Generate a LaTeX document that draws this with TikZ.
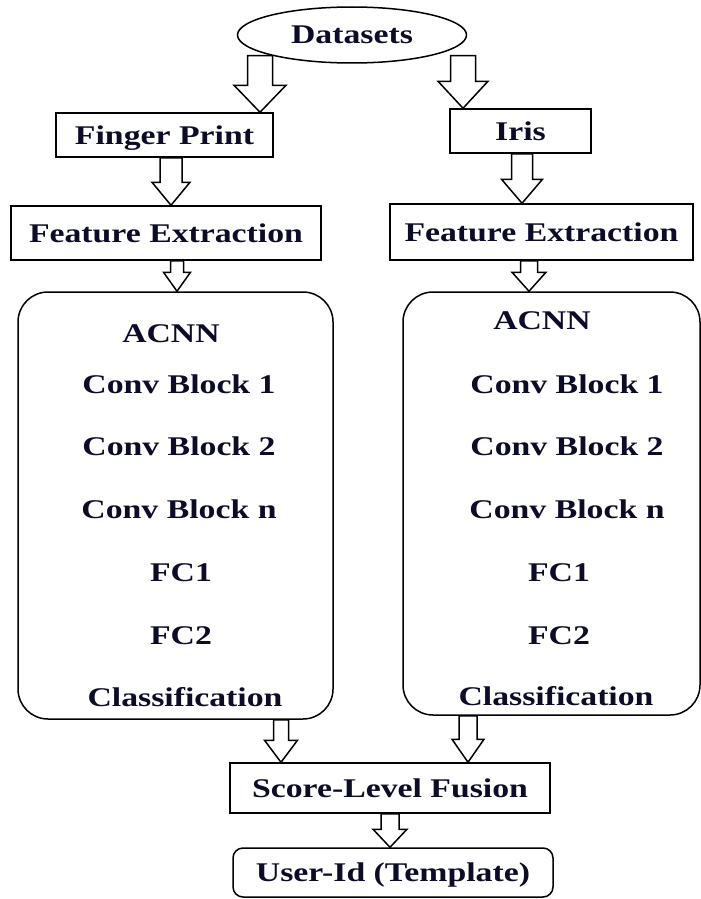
\documentclass[tikz,border=0pt]{standalone}
\usepackage{fontspec}
\setmainfont{Liberation Serif}[FakeStretch=1.25]
\usepackage{tikz}
\usetikzlibrary{shapes.geometric}
\usetikzlibrary{backgrounds}
\usetikzlibrary{calc}
\usepackage{xcolor}
\definecolor{txtnavy}{RGB}{12,12,40}

% hollow block arrow: x, start point, to node, half shaft, half head, head length
\newcommand{\hollowarrow}[6]{%
  \draw[blockarrow] let \p1=(#2), \p2=(#3.north) in
    ({#1pt-#4pt},{\y1}) -- ({#1pt-#4pt},{\y2+#6pt}) -- ({#1pt-#5pt},{\y2+#6pt})
    -- ({#1pt},{\y2}) -- ({#1pt+#5pt},{\y2+#6pt}) -- ({#1pt+#4pt},{\y2+#6pt})
    -- ({#1pt+#4pt},{\y1}) -- cycle;}

\begin{document}
\begin{tikzpicture}[x=1pt,y=-1pt,
    lbl/.style={text=txtnavy, font=\fontsize{27}{30}\selectfont\bfseries,
      text height=18pt, text depth=0pt, inner sep=0pt},
    box/.style={lbl, draw, line width=1.5pt, fill=white, rectangle},
    netbox/.style={draw, line width=1.5pt, fill=white, rectangle, rounded corners=30pt, inner sep=0pt},
    blockarrow/.style={draw, line width=1.5pt, fill=white, line join=miter}]
  \useasboundingbox (0,0) rectangle (701,899);

  \node[lbl, draw, ellipse, line width=1.5pt, fill=white, minimum width=229pt, minimum height=56pt] (ds) at (352,35) {Datasets};
  \node[box, minimum width=217pt, minimum height=44pt] (fp) at (164.5,135) {Finger Print};
  \node[box, minimum width=141pt, minimum height=44pt] (iris) at (520.5,131) {Iris};
  \node[box, minimum width=310pt, minimum height=54pt] (fel) at (166,233) {Feature Extraction};
  \node[box, minimum width=303pt, minimum height=56pt] (fer) at (541.5,232) {Feature Extraction};

  % ACNN blocks
  \node[netbox, minimum width=315pt, minimum height=427pt] (acl) at (175.5,505.5) {};
  \node[netbox, minimum width=297pt, minimum height=423pt] (acr) at (551.5,503.5) {};

  \node[lbl] (acnnl) at (171,333) {ACNN};
  \node[lbl] (cb1l) at (179,384) {Conv Block 1};
  \node[lbl] (cb2l) at (179,446) {Conv Block 2};
  \node[lbl] (cbnl) at (179,509) {Conv Block n};
  \node[lbl] (fc1l) at (181,572) {FC1};
  \node[lbl] (fc2l) at (181,635) {FC2};
  \node[lbl] (clsl) at (185,697) {Classification};

  \node[lbl] (acnnr) at (542,320) {ACNN};
  \node[lbl] (cb1r) at (567,384) {Conv Block 1};
  \node[lbl] (cb2r) at (567,446) {Conv Block 2};
  \node[lbl] (cbnr) at (567,509) {Conv Block n};
  \node[lbl] (fc1r) at (559,572) {FC1};
  \node[lbl] (fc2r) at (559,635) {FC2};
  \node[lbl] (clsr) at (556,696) {Classification};

  \node[box, minimum width=320pt, minimum height=50pt] (slf) at (390,788) {Score-Level Fusion};
  \node[box, rounded corners=10pt, minimum width=320pt, minimum height=49pt] (uid) at (393,872.5) {User-Id (Template)};

  \begin{scope}[on background layer]
    \hollowarrow{260}{$(ds.south)+(0,-8)$}{fp}{12.5}{26}{27}
    \hollowarrow{463}{$(ds.south)+(0,-8)$}{iris}{12.5}{25}{27}
    \hollowarrow{171}{fp.south}{fel}{11}{19}{23}
    \hollowarrow{522}{iris.south}{fer}{10.5}{20.5}{24}
    \hollowarrow{177}{fel.south}{acl}{6.5}{13.5}{19}
    \hollowarrow{529}{fer.south}{acr}{8.5}{17}{19}
    \hollowarrow{281}{acl.south}{slf}{7.5}{16.5}{22}
    \hollowarrow{468}{acr.south}{slf}{9}{16}{23}
    \hollowarrow{390}{slf.south}{uid}{9}{17}{18}
  \end{scope}
\end{tikzpicture}
\end{document}
